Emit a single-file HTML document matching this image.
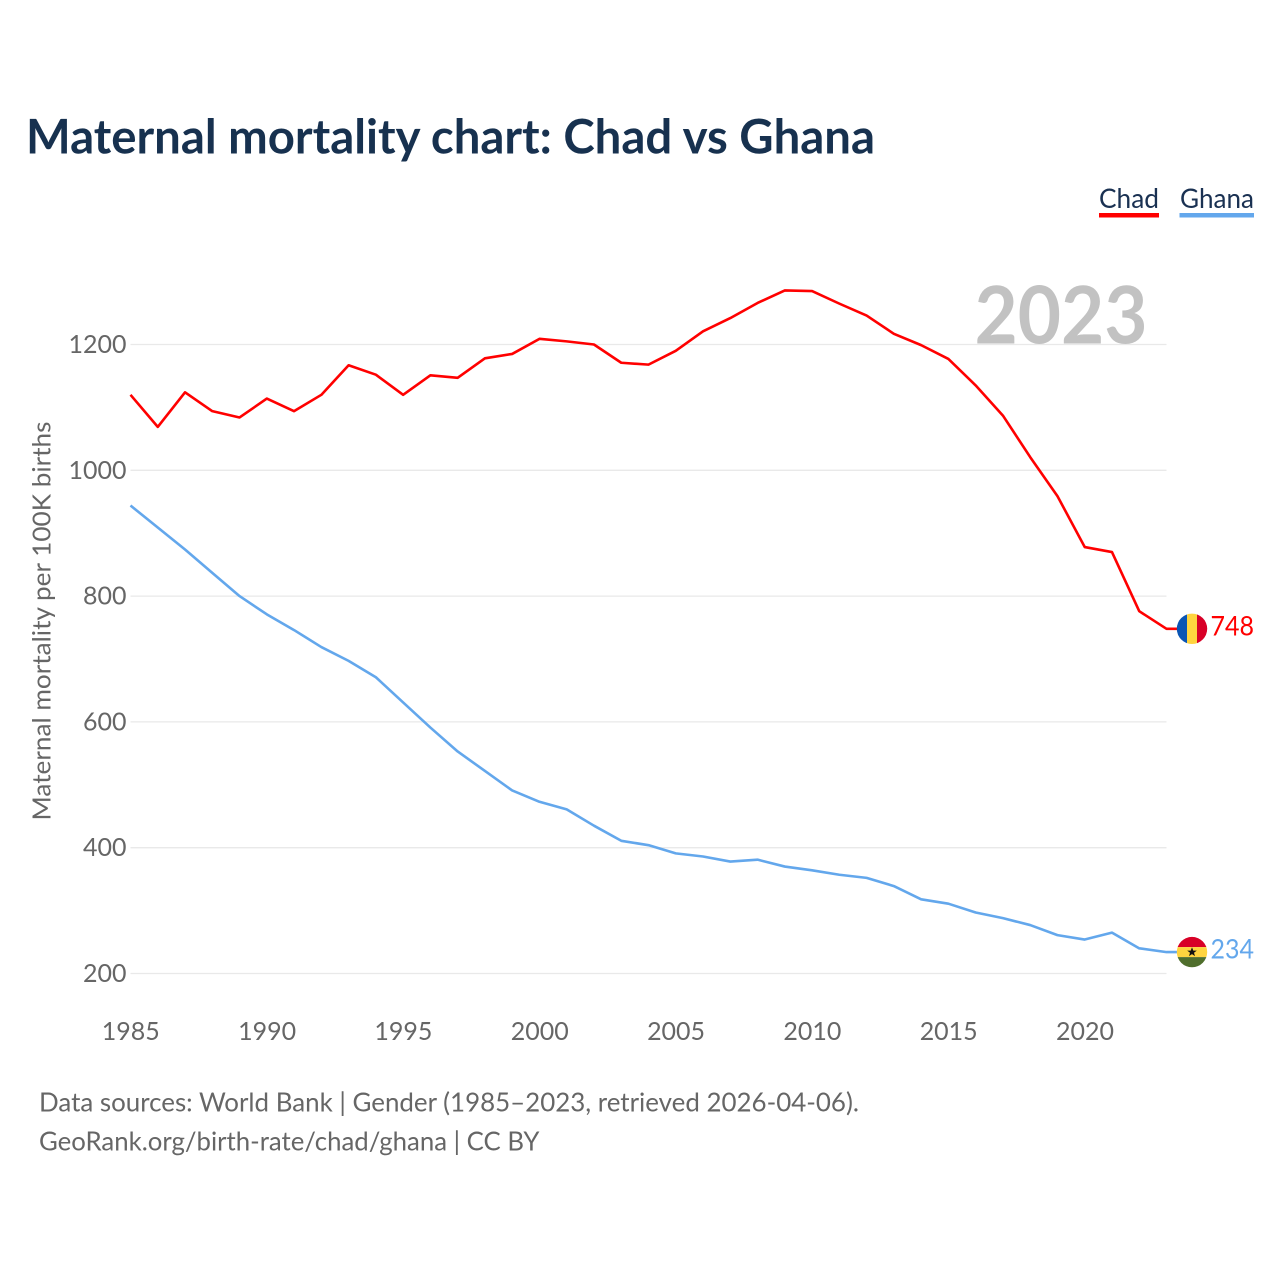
<!DOCTYPE html>
<html lang="en">
<head>
<meta charset="utf-8">
<title>Maternal mortality chart: Chad vs Ghana</title>
<style>
html,body{margin:0;padding:0;background:#fff;width:1280px;height:1280px;overflow:hidden}
svg{display:block}
text{font-family:"Lato","Carlito","Liberation Sans",sans-serif}
</style>
</head>
<body>
<svg id="chart" xmlns="http://www.w3.org/2000/svg" width="1280" height="1280" viewBox="0 0 1280 1280">
  <rect x="0" y="0" width="1280" height="1280" fill="#fff"/>
  <text x="26" y="153.5" font-size="47.5" font-weight="700" fill="#17314f" textLength="849" lengthAdjust="spacingAndGlyphs">Maternal mortality chart: Chad vs Ghana</text>
  <g>
    <g>
      <text x="1099" y="208" font-size="27" fill="#1a3152" textLength="60" lengthAdjust="spacingAndGlyphs">Chad</text>
      <rect x="1099" y="213" width="60" height="4.5" fill="#ff0000"/>
    </g>
    <g>
      <text x="1180" y="208" font-size="27" fill="#1a3152" textLength="74" lengthAdjust="spacingAndGlyphs">Ghana</text>
      <rect x="1179.5" y="213" width="74.5" height="4.5" fill="#63a7ec"/>
    </g>
  </g>
  <g id="grid"></g>
  <text id="year-label" x="1147.5" y="343.5" font-size="80" font-weight="700" fill="#c2c2c2" text-anchor="end" textLength="173" lengthAdjust="spacingAndGlyphs"></text>
  <g id="y-ticks"></g>
  <g id="x-ticks"></g>
  <text transform="translate(50.5,820.5) rotate(-90)" font-size="25" fill="#666" textLength="399" lengthAdjust="spacingAndGlyphs">Maternal mortality per 100K births</text>
  <g id="series"></g>
  <defs>
    <clipPath id="flag-clip"><circle cx="0" cy="0" r="15.2"/></clipPath>
  </defs>
  <g id="flag-chad">
    <g clip-path="url(#flag-clip)">
      <rect x="-16" y="-16" width="11" height="32" fill="#0a55b4"/>
      <rect x="-5" y="-16" width="10" height="32" fill="#ffd43f"/>
      <rect x="5" y="-16" width="11" height="32" fill="#d80027"/>
    </g>
  </g>
  <g id="flag-ghana">
    <g clip-path="url(#flag-clip)">
      <rect x="-16" y="-16" width="32" height="11" fill="#d80027"/>
      <rect x="-16" y="-5" width="32" height="10" fill="#ffd43f"/>
      <rect x="-16" y="5" width="32" height="11" fill="#4f6e2c"/>
      <polygon points="0,-4.8 1.3,-1.5 4.8,-1.5 2,0.6 3,4 0,2 -3,4 -2,0.6 -4.8,-1.5 -1.3,-1.5" fill="#111"/>
    </g>
  </g>
  <text id="value-chad" x="1210.5" font-size="27" fill="#ff0000" textLength="43.5" lengthAdjust="spacingAndGlyphs"></text>
  <text id="value-ghana" x="1210.5" font-size="27" fill="#63a7ec" textLength="43.5" lengthAdjust="spacingAndGlyphs"></text>
  <g>
    <text x="39" y="1111.5" font-size="26.5" fill="#666" textLength="820" lengthAdjust="spacingAndGlyphs">Data sources: World Bank | Gender (1985–2023, retrieved 2026-04-06).</text>
    <text x="39" y="1150.5" font-size="26.5" fill="#666" textLength="500.5" lengthAdjust="spacingAndGlyphs">GeoRank.org/birth-rate/chad/ghana | CC BY</text>
  </g>
</svg>
<script>
const years = [1985,1986,1987,1988,1989,1990,1991,1992,1993,1994,1995,1996,1997,1998,1999,2000,2001,2002,2003,2004,2005,2006,2007,2008,2009,2010,2011,2012,2013,2014,2015,2016,2017,2018,2019,2020,2021,2022,2023];
const chadValues = [1120,1069,1124,1094,1084,1114,1094,1120,1167,1152,1120,1151,1147,1178,1185,1209,1205,1200,1171,1168,1190,1221,1242,1266,1286,1285,1265,1246,1217,1199,1177,1135,1087,1021,959,878,870,776,748];
const ghanaValues = [944,909,874,837,800,771,746,719,697,671,631,591,553,522,491,473,461,435,411,404,391,386,378,381,370,364,357,352,339,318,311,297,288,277,261,254,265,240,234];
const yTicks = [200,400,600,800,1000,1200];
const xTicks = [1985,1990,1995,2000,2005,2010,2015,2020];

const NS = 'http://www.w3.org/2000/svg';
function xScale(year) { return 130.5 + (year - 1985) * (1166.5 - 130.5) / 38; }
function yScale(value) { return 973.5 - (value - 200) * (973.5 - 344.5) / 1000; }
function make(tag, attrs, parent, text) {
  const el = document.createElementNS(NS, tag);
  for (const k in attrs) el.setAttribute(k, attrs[k]);
  if (text !== undefined) el.textContent = text;
  parent.appendChild(el);
  return el;
}

const grid = document.getElementById('grid');
const yAxis = document.getElementById('y-ticks');
const xAxis = document.getElementById('x-ticks');
const seriesLayer = document.getElementById('series');

yTicks.forEach(function (t) {
  const line = make('line', {x1: 130.5, x2: 1166.5, y1: yScale(t), y2: yScale(t), stroke: '#e9e9e9', 'stroke-width': 1.3}, grid);
  
  
  const label = make('text', {x: 126.5, y: yScale(t) + 8.5, 'font-size': 25.5, fill: '#666', 'text-anchor': 'end', textLength: String(t).length * 14.5, lengthAdjust: 'spacingAndGlyphs'}, yAxis, String(t));
  
  
});

xTicks.forEach(function (t) {
  const label = make('text', {x: xScale(t) + 0.3, y: 1040, 'font-size': 25.5, fill: '#666', 'text-anchor': 'middle', textLength: 58, lengthAdjust: 'spacingAndGlyphs'}, xAxis, String(t));
  
  
});

function drawSeries(values, color, key) {
  const d = values.map(function (v, i) {
    return (i ? 'L' : 'M') + xScale(years[i]).toFixed(2) + ' ' + yScale(v).toFixed(2);
  }).join(' ');
  const lastX = xScale(years[years.length - 1]);
  const lastY = yScale(values[values.length - 1]);
  const path = make('path', {d: d + ' L' + (lastX + 11) + ' ' + lastY.toFixed(2), fill: 'none', stroke: color, 'stroke-width': 2.6, 'stroke-linejoin': 'round'}, seriesLayer);
  
  
  document.getElementById('flag-' + key).setAttribute('transform', 'translate(1192,' + lastY.toFixed(2) + ')');
  const label = document.getElementById('value-' + key);
  label.setAttribute('y', (lastY + 6.5).toFixed(2));
  label.textContent = String(values[values.length - 1]);
}
drawSeries(chadValues, '#ff0000', 'chad');
drawSeries(ghanaValues, '#63a7ec', 'ghana');
document.getElementById('year-label').textContent = String(years[years.length - 1]);
</script>
</body>
</html>
